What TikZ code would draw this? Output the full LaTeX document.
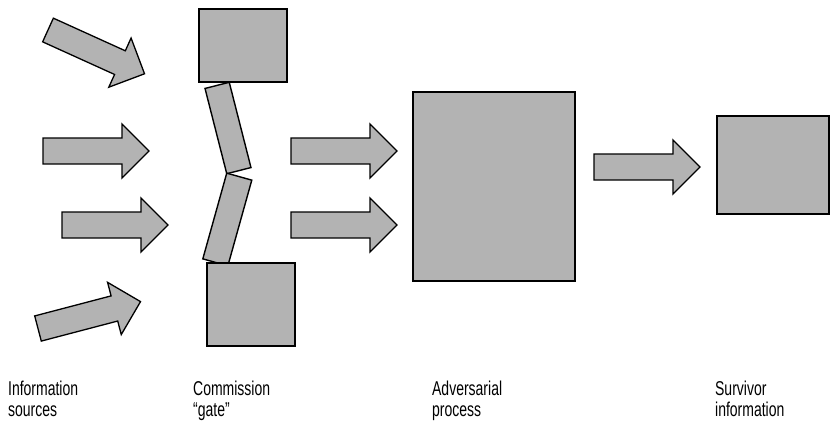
\documentclass[tikz,border=0pt]{standalone}
\usepackage{fontspec}
\setmainfont{Liberation Sans}
\begin{document}
\begin{tikzpicture}[x=1pt,y=-1pt,
  greyfill/.style={fill={rgb,255:red,179;green,179;blue,179}},
  block/.style={greyfill, draw=black, line width=1.8pt, rectangle, inner sep=0pt,
    append after command={
      \pgfextra{\draw[white, line width=0.6pt]
        ([shift={(1.6pt,-1.6pt)}]\tikzlastnode.north west) rectangle
        ([shift={(-1.6pt,1.6pt)}]\tikzlastnode.south east);}}},
  gatebar/.style={greyfill, draw=black, line width=1.4pt, rectangle, inner sep=0pt,
    minimum width=25pt, minimum height=88pt},
  caption/.style={anchor=base west, inner sep=0pt, align=left,
    xscale=0.7, transform shape,
    font=\fontsize{20pt}{21pt}\selectfont},
  pics/blockarrow/.style={code={
    \draw[greyfill, draw=black, line width=1.3pt, line join=miter]
      (0,-13) -- (79,-13) -- (79,-27) -- (106,0) -- (79,27) -- (79,13) -- (0,13) -- cycle;
    \coordinate (-tip) at (106,0);}}]
\useasboundingbox (0,0) rectangle (830,429);

% information sources
\pic[rotate=-24.4] (srcA) at (48,30) {blockarrow};
\pic (srcB) at (43,151) {blockarrow};
\pic (srcC) at (62,225) {blockarrow};
\pic[rotate=14.7] (srcD) at (38,328.5) {blockarrow};

% commission gate
\node[block, minimum width=88pt, minimum height=73pt] (gateTop) at (243,45.5) {};
\node[gatebar, rotate=14.3] (gateUpper) at (228,128) {};
\node[gatebar, rotate=-15.6, minimum width=26pt, minimum height=89pt] (gateLower) at (227.3,219.5) {};
\node[block, minimum width=88pt, minimum height=83pt] (gateBottom) at (251,304.5) {};

% into the adversarial process
\pic (passA) at (291,151) {blockarrow};
\pic (passB) at (291,225) {blockarrow};
\node[block, minimum width=162pt, minimum height=189pt] (adversary) at (494,186.5) {};

% surviving information
\pic (survive) at (594,167) {blockarrow};
\node[block, minimum width=112pt, minimum height=98pt] (survivor) at (773,165) {};

% captions (last line sits on the given baseline)
\node[caption] (capSources) at (8,416) {Information\\sources};
\node[caption] (capGate) at (193,416) {Commission\\``gate''};
\node[caption] (capProcess) at (432,416) {Adversarial\\process};
\node[caption] (capSurvivor) at (715,416) {Survivor\\information};
\end{tikzpicture}
\end{document}
